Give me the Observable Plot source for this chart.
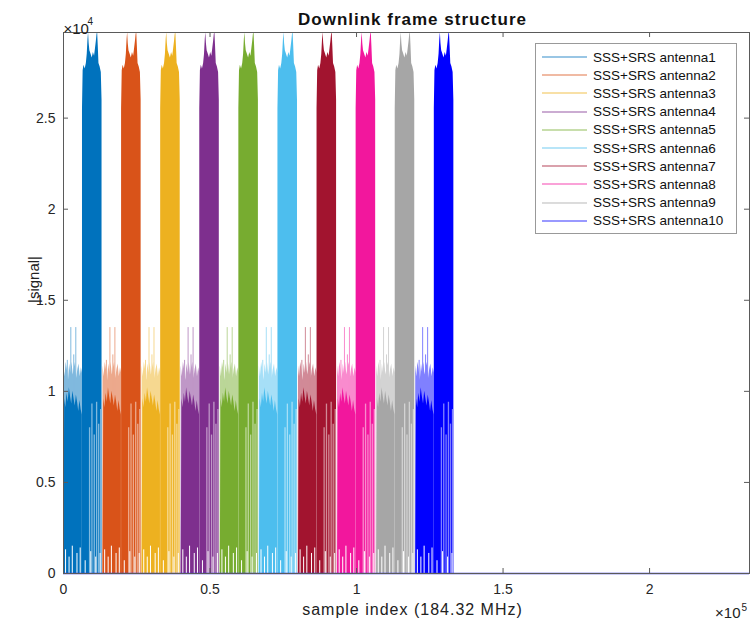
<!DOCTYPE html>
<html><head><meta charset="utf-8">
<script src="https://cdn.jsdelivr.net/npm/d3@7"></script>
<script src="https://cdn.jsdelivr.net/npm/@observablehq/plot@0.6"></script>
<style>
body{margin:0;background:#fff;font-family:"Liberation Sans",Arial,Helvetica,sans-serif;}
#wrap{position:relative;width:750px;height:625px;}
#legend{position:absolute;left:535px;top:43px;width:202px;height:191px;border:1px solid #999;background:#fff;box-sizing:border-box;padding-top:4px;}
.row{height:18.2px;display:flex;align-items:center;font-size:13.5px;color:#111;white-space:nowrap;}
.row svg{margin-left:6px;margin-right:6px;}
</style></head><body><div id="wrap"></div>
<script>
// ---- data ----
const antennas = ["SSS+SRS antenna1","SSS+SRS antenna2","SSS+SRS antenna3","SSS+SRS antenna4","SSS+SRS antenna5",
                  "SSS+SRS antenna6","SSS+SRS antenna7","SSS+SRS antenna8","SSS+SRS antenna9","SSS+SRS antenna10"];
const colors = ["#0072BD","#D95319","#EDB120","#7E2F8E","#77AC30","#4DBEEE","#A2142F","#F2179D","#A6A6A6","#0000FF"];
// start sample of each antenna's burst
const blockStart = [0, 13340, 26680, 40020, 53360, 66700, 80040, 93380, 106720, 120060];
// SSS part: sparse (light) envelope
const sparseOffset = [0, 150, 500, 900, 1300, 1700, 2100, 2500, 2900, 3300, 3700, 4100, 4500, 4900, 5300, 5700, 6100, 6480];
const sparsePeak   = [0, 11400, 10800, 11600, 11200, 10600, 11500, 11000, 11600, 10900, 11300, 11600, 10700, 11200, 11500, 10800, 11300, 11000];
// SSS part: dense envelope
const sssOffset = [150, 400, 800, 1200, 1600, 2000, 2400, 2800, 3200, 3600, 4000, 4400, 4800, 5200, 5600, 6000, 6400];
const sssPeak   = [0, 9600, 9100, 9900, 9400, 10200, 9700, 9300, 10000, 9600, 9200, 9800, 9400, 8900, 9500, 9000, 8700];
// isolated SSS spikes
const spikeOffset = [1300, 2500, 3500, 4200];
const spikeHeight = [11700, 13500, 12000, 13500];
// SRS part: dense envelope
const srsOffset = [6480, 6700, 7000, 7400, 7800, 8100, 8350, 8550, 8750, 9000, 9400, 9800, 10200, 10600, 10900, 11200, 11450, 11650, 11850, 12100, 12500, 12900, 13150];
const srsPeak   = [25500, 27600, 27900, 27700, 28000, 28500, 29300, 29700, 29100, 28700, 28500, 28300, 28600, 28400, 28800, 29200, 29600, 29700, 29000, 28000, 27800, 27500, 26000];
// sparse low stripes inside SRS part
const stripeOffset = [8900, 9700, 10500, 11300, 12000, 12700];
const stripeHeight = [8000, 9300, 7600, 9400, 8200, 9000];
// dips to zero near the bottom
const notchOffset = [700, 1900, 3000, 4600, 5700, 7400, 9300, 11000, 12500];
const notchHeight = [1300, 900, 1500, 1100, 1400, 700, 1200, 900, 1100];
const xTicks = [0, 50000, 100000, 150000, 200000];
const yTicks = [0, 5000, 10000, 15000, 20000, 25000];
const xMax = 234100, yMax = 29700;

// ---- layout ----
const W = 750, H = 625, mL = 63, mR = 1, mT = 32, mB = 52;
const fw = W - mL - mR, fh = H - mT - mB;
const font = '"Liberation Sans", Arial, Helvetica, sans-serif';

const marks = [];
antennas.forEach((name, i) => {
  const s = blockStart[i], c = colors[i];
  const light = d3.interpolateRgb(c, "#fff")(0.5);
  const pts = (off, val) => off.map((o, j) => ({x: s + o, y: val[j]}));
  marks.push(Plot.areaY(pts(sparseOffset, sparsePeak), {x: "x", y: "y", fill: light}));
  marks.push(Plot.ruleX(pts(spikeOffset, spikeHeight), {x: "x", y1: 0, y2: "y", stroke: light, strokeWidth: 1}));
  marks.push(Plot.areaY(pts(sssOffset, sssPeak), {x: "x", y: "y", fill: c}));
  marks.push(Plot.areaY(pts(srsOffset, srsPeak), {x: "x", y: "y", fill: c}));
  marks.push(Plot.ruleX(pts(stripeOffset, stripeHeight), {x: "x", y1: 0, y2: "y", stroke: light, strokeWidth: 1.3}));
  marks.push(Plot.ruleX(pts(notchOffset, notchHeight), {x: "x", y1: 0, y2: "y", stroke: "#fff", strokeWidth: 1}));
});

const axisColor = "#5a5a5a";
const chart = Plot.plot({
  width: W, height: H,
  marginLeft: mL, marginRight: mR, marginTop: mT, marginBottom: mB,
  style: {fontFamily: font, background: "white", color: "#262626"},
  x: {domain: [0, xMax]},
  y: {domain: [0, yMax]},
  marks: [
    ...marks,
    Plot.ruleY([0], {stroke: "#3a3ae0", strokeWidth: 1.4}),
    Plot.frame({stroke: axisColor}),
    Plot.ruleX(xTicks, {stroke: axisColor, insetTop: fh - 5}),
    Plot.ruleX(xTicks, {stroke: axisColor, insetBottom: fh - 5}),
    Plot.ruleY(yTicks, {stroke: axisColor, insetRight: fw - 5}),
    Plot.ruleY(yTicks, {stroke: axisColor, insetLeft: fw - 5}),
    Plot.axisX({ticks: xTicks, tickFormat: d => d / 1e5, tickSize: 0, tickPadding: 11, fontSize: 14, label: null}),
    Plot.axisY({ticks: yTicks, tickFormat: d => d / 1e4, tickSize: 0, tickPadding: 8, fontSize: 14, label: null}),
    Plot.text(["Downlink frame structure"], {frameAnchor: "top", dx: 6, dy: -20, fontWeight: "bold", fontSize: 17, fill: "#111"}),
    Plot.text(["sample index (184.32 MHz)"], {frameAnchor: "bottom", dx: 6, dy: 41, fontSize: 16, fill: "#222"}),
    Plot.text(["|signal|"], {frameAnchor: "left", dx: -29, dy: 0, rotate: -90, fontSize: 15, fill: "#222"}),
    Plot.text(["×10"], {frameAnchor: "top-left", textAnchor: "start", dx: 0, dy: -9, fontSize: 15, fill: "#222"}),
    Plot.text(["4"], {frameAnchor: "top-left", textAnchor: "start", dx: 24, dy: -15, fontSize: 10, fill: "#222"}),
    Plot.text(["×10"], {frameAnchor: "bottom-right", textAnchor: "end", dx: -9, dy: 44, fontSize: 15, fill: "#222"}),
    Plot.text(["5"], {frameAnchor: "bottom-right", textAnchor: "start", dx: -8, dy: 37, fontSize: 10, fill: "#222"})
  ]
});

// letter spacing to match the reference's wide labels
d3.select(chart).selectAll("text").each(function() {
  const t = this.textContent;
  if (t === "Downlink frame structure") this.style.letterSpacing = "1px";
  if (t === "sample index (184.32 MHz)") this.style.letterSpacing = "1px";
});

const wrap = document.getElementById("wrap");
wrap.appendChild(chart);

// legend
const legend = document.createElement("div");
legend.id = "legend";
antennas.forEach((name, i) => {
  const row = document.createElement("div");
  row.className = "row";
  row.innerHTML = `<svg width="45" height="4"><line x1="0" x2="45" y1="2" y2="2" stroke="${colors[i]}" stroke-width="1" stroke-opacity="0.8"/></svg><span>${name}</span>`;
  legend.appendChild(row);
});
wrap.appendChild(legend);
</script>
</body></html>
